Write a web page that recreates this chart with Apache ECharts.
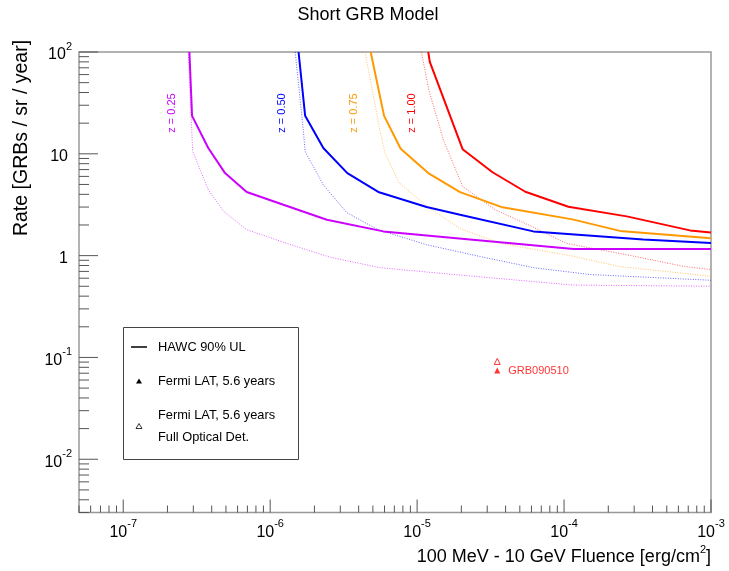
<!DOCTYPE html>
<html>
<head>
<meta charset="utf-8">
<script src="https://cdn.jsdelivr.net/npm/echarts@6/dist/echarts.min.js"></script>
<style>
html,body{margin:0;padding:0;background:#fff;}
#chart{width:729px;height:571px;}
</style>
</head>
<body>
<div id="chart"></div>
<script>
// ---------- data ----------
const xTickExps = [-7, -6, -5, -4, -3];
const yTickExps = [-2, -1, 0, 1, 2];

const zLabels = ['z = 0.25', 'z = 0.50', 'z = 0.75', 'z = 1.00'];

// HAWC 90% UL (solid)
const z025_hawc_x = [2.82e-7, 2.94e-7, 3.79e-7, 4.93e-7, 6.92e-7, 1.23e-6, 2.43e-6, 5.89e-6, 2.29e-5, 1.16e-4, 1e-3];
const z025_hawc_y = [100, 23.6, 11.4, 6.47, 4.22, 3.16, 2.25, 1.73, 1.44, 1.16, 1.16];
const z050_hawc_x = [1.56e-6, 1.73e-6, 2.30e-6, 3.35e-6, 5.44e-6, 1.16e-5, 1.96e-5, 6.18e-5, 3.46e-4, 1e-3];
const z050_hawc_y = [100, 23.6, 11.4, 6.47, 4.22, 3.0, 2.52, 1.73, 1.44, 1.33];
const z075_hawc_x = [4.83e-6, 5.96e-6, 7.73e-6, 1.19e-5, 1.96e-5, 3.81e-5, 1.14e-4, 2.40e-4, 1e-3];
const z075_hawc_y = [100, 23.6, 11.2, 6.47, 4.2, 2.98, 2.27, 1.75, 1.48];
const z100_hawc_x = [1.19e-5, 1.22e-5, 2.04e-5, 3.26e-5, 5.45e-5, 1.07e-4, 2.67e-4, 7.19e-4, 1e-3];
const z100_hawc_y = [100, 80, 11.1, 6.59, 4.24, 3.02, 2.43, 1.77, 1.69];

// Full optical detection (dotted)
const z025_opt_x = [2.77e-7, 2.97e-7, 3.79e-7, 4.85e-7, 6.92e-7, 1.32e-6, 2.55e-6, 5.58e-6, 1.96e-5, 1.15e-4, 1e-3];
const z025_opt_y = [100, 10.6, 4.43, 2.70, 1.80, 1.31, 0.966, 0.762, 0.644, 0.514, 0.50];
const z050_opt_x = [1.48e-6, 1.68e-6, 1.73e-6, 2.30e-6, 3.32e-6, 5.42e-6, 1.16e-5, 2.68e-5, 6.18e-5, 1.50e-4, 1e-3];
const z050_opt_y = [100, 17.2, 10.5, 4.96, 2.64, 1.80, 1.28, 0.98, 0.762, 0.652, 0.573];
const z075_opt_x = [4.42e-6, 5.58e-6, 6.04e-6, 7.53e-6, 1.19e-5, 1.96e-5, 3.77e-5, 1.10e-4, 2.40e-4, 1e-3];
const z075_opt_y = [100, 17.2, 10.2, 5.2, 2.99, 1.84, 1.31, 1.0, 0.78, 0.627];
const z100_opt_x = [1.07e-5, 1.20e-5, 1.51e-5, 2.04e-5, 3.39e-5, 6.18e-5, 1.04e-4, 1.50e-4, 2.67e-4, 6.49e-4, 1e-3];
const z100_opt_y = [100, 42.4, 13.7, 4.78, 2.83, 1.90, 1.32, 1.19, 1.02, 0.785, 0.73];

// GRB090510
const grb_name = 'GRB090510';
const grb_x = [3.51e-5];
const grb_fermi_y = [0.0746];
const grb_optical_y = [0.0914];

// ---------- styling ----------
const XMIN = 5e-8, XMAX = 1e-3, YMIN = 3e-3, YMAX = 100;
const FONT = '"Liberation Sans", Arial, Helvetica, sans-serif';
const colors = ['#cc00ff', '#0000ff', '#ff9900', '#ff0000'];

function zip(xs, ys) { return xs.map((x, i) => [x, ys[i]]); }

const hawc = [zip(z025_hawc_x, z025_hawc_y), zip(z050_hawc_x, z050_hawc_y), zip(z075_hawc_x, z075_hawc_y), zip(z100_hawc_x, z100_hawc_y)];
const opt = [zip(z025_opt_x, z025_opt_y), zip(z050_opt_x, z050_opt_y), zip(z075_opt_x, z075_opt_y), zip(z100_opt_x, z100_opt_y)];

// tick positions (major decades + minor 2..9)
const tickData = [];
for (let e = -8; e <= -3; e++) {
  for (let m = 1; m <= 9; m++) {
    const v = m * Math.pow(10, e);
    if (v < XMIN * 0.999 || v > XMAX * 1.001) continue;
    tickData.push([v, YMIN, m === 1 ? 13 : 7, 0]);
  }
}
for (let e = -3; e <= 2; e++) {
  for (let m = 1; m <= 9; m++) {
    const v = m * Math.pow(10, e);
    if (v < YMIN * 0.999 || v > YMAX * 1.001) continue;
    tickData.push([XMIN, v, m === 1 ? 19 : 10, 1]);
  }
}
// tick labels
const labelData = [];
xTickExps.forEach(e => labelData.push([Math.pow(10, e), YMIN, e, 0]));
yTickExps.forEach(e => labelData.push([XMIN, Math.pow(10, e), e, 1]));

function labelText(e, isY) {
  if (isY && e === 0) return '{b|1}';
  if (isY && e === 1) return '{b|10}';
  return '{b|10}{s|' + e + '}';
}
const labelRich = {
  b: { fontSize: 16, fontFamily: FONT, fill: '#000', lineHeight: 22, verticalAlign: 'bottom' },
  s: { fontSize: 11, fontFamily: FONT, fill: '#000', lineHeight: 10, verticalAlign: 'top' }
};

const series = [];
opt.forEach((d, i) => {
  series.push({
    type: 'line', data: d, showSymbol: false, silent: true,
    lineStyle: { color: colors[i], width: 1, type: [1, 1.5], opacity: 0.6 },
    z: 2
  });
});
hawc.forEach((d, i) => {
  series.push({
    type: 'line', data: d, showSymbol: false, silent: true,
    lineStyle: { color: colors[i], width: 2 },
    z: 3
  });
});
series.push({
  type: 'scatter', data: zip(grb_x, grb_fermi_y), symbol: 'triangle', symbolSize: 6,
  itemStyle: { color: '#ff0000' }, z: 4,
  label: { show: true, position: 'right', distance: 8, offset: [0, 1], formatter: grb_name, color: '#ff0000', fontSize: 11, fontFamily: FONT }
});
series.push({
  type: 'scatter', data: zip(grb_x, grb_optical_y), symbol: 'triangle', symbolSize: 6,
  itemStyle: { color: 'transparent', borderColor: '#ff0000', borderWidth: 1 }, z: 4
});
series.push({
  type: 'custom', data: tickData, silent: true, clip: false, z: 5,
  renderItem: function (params, api) {
    const p = api.coord([api.value(0), api.value(1)]);
    const len = api.value(2);
    const kind = api.value(3);
    const shape = kind === 0
      ? { x1: p[0], y1: p[1], x2: p[0], y2: p[1] - len }
      : { x1: p[0], y1: p[1], x2: p[0] + len, y2: p[1] };
    return { type: 'line', shape: shape, style: { stroke: '#555', lineWidth: 1 } };
  }
});
series.push({
  type: 'custom', data: labelData, silent: true, clip: false, z: 5,
  renderItem: function (params, api) {
    const p = api.coord([api.value(0), api.value(1)]);
    const e = api.value(2);
    const kind = api.value(3);
    if (kind === 0) {
      return { type: 'text', x: p[0], y: p[1] + 6, style: { text: labelText(e, false), rich: labelRich, align: 'center', verticalAlign: 'top' } };
    }
    const plain = (e === 0 || e === 1);
    return { type: 'text', x: p[0] - (plain ? 11 : 7), y: p[1], style: { text: labelText(e, true), rich: labelRich, align: 'right', verticalAlign: 'middle' } };
  }
});

const option = {
  animation: false,
  backgroundColor: '#fff',
  grid: { left: 79, right: 18, top: 52, bottom: 58.5, show: true, borderColor: '#999', borderWidth: 1.5, backgroundColor: 'transparent' },
  xAxis: {
    type: 'log', logBase: 10, min: XMIN, max: XMAX,
    axisLine: { show: false }, axisTick: { show: false }, splitLine: { show: false }, axisLabel: { show: false }
  },
  yAxis: {
    type: 'log', logBase: 10, min: YMIN, max: YMAX,
    axisLine: { show: false }, axisTick: { show: false }, splitLine: { show: false }, axisLabel: { show: false }
  },
  series: series,
  graphic: [
    { type: 'text', silent: true, style: { text: 'Short GRB Model', x: 368, y: 15, align: 'center', verticalAlign: 'middle', font: '18px ' + FONT, fill: '#000' } },
    { type: 'text', silent: true, rotation: Math.PI / 2, x: 22, y: 138, style: { text: 'Rate [GRBs / sr / year]', x: 0, y: 0, align: 'center', verticalAlign: 'middle', font: '19.5px ' + FONT, fill: '#000' } },
    { type: 'text', silent: true, style: {
        text: '{t|100 MeV - 10 GeV Fluence [erg/cm}{s|2}{t|]}', x: 711, y: 555, align: 'right', verticalAlign: 'middle',
        rich: { t: { fontSize: 18, fontFamily: FONT, fill: '#000', lineHeight: 22, verticalAlign: 'bottom' }, s: { fontSize: 11, fontFamily: FONT, fill: '#000', lineHeight: 11, verticalAlign: 'top' } }
      } },
    // z labels
    { type: 'text', silent: true, rotation: Math.PI / 2, x: 172, y: 113, style: { text: zLabels[0], align: 'center', verticalAlign: 'middle', font: '11px ' + FONT, fill: colors[0] } },
    { type: 'text', silent: true, rotation: Math.PI / 2, x: 282, y: 113, style: { text: zLabels[1], align: 'center', verticalAlign: 'middle', font: '11px ' + FONT, fill: colors[1] } },
    { type: 'text', silent: true, rotation: Math.PI / 2, x: 354, y: 113, style: { text: zLabels[2], align: 'center', verticalAlign: 'middle', font: '11px ' + FONT, fill: colors[2] } },
    { type: 'text', silent: true, rotation: Math.PI / 2, x: 412, y: 113, style: { text: zLabels[3], align: 'center', verticalAlign: 'middle', font: '11px ' + FONT, fill: colors[3] } },
    // legend box
    { type: 'rect', silent: true, shape: { x: 123.5, y: 327.5, width: 175, height: 132 }, style: { fill: '#fff', stroke: '#444', lineWidth: 1 }, z: 10 },
    { type: 'line', silent: true, shape: { x1: 131, y1: 347, x2: 147, y2: 347 }, style: { stroke: '#000', lineWidth: 1.5 }, z: 11 },
    { type: 'text', silent: true, style: { text: 'HAWC 90% UL', x: 158, y: 347, verticalAlign: 'middle', font: '12.8px ' + FONT, fill: '#000' }, z: 11 },
    { type: 'polygon', silent: true, shape: { points: [[139, 378.5], [136, 383.5], [142, 383.5]] }, style: { fill: '#000' }, z: 11 },
    { type: 'text', silent: true, style: { text: 'Fermi LAT, 5.6 years', x: 158, y: 381, verticalAlign: 'middle', font: '12.8px ' + FONT, fill: '#000' }, z: 11 },
    { type: 'polygon', silent: true, shape: { points: [[139, 423.5], [136, 428.5], [142, 428.5]] }, style: { fill: 'none', stroke: '#000', lineWidth: 0.8 }, z: 11 },
    { type: 'text', silent: true, style: { text: 'Fermi LAT, 5.6 years', x: 158, y: 415, verticalAlign: 'middle', font: '12.8px ' + FONT, fill: '#000' }, z: 11 },
    { type: 'text', silent: true, style: { text: 'Full Optical Det.', x: 158, y: 437, verticalAlign: 'middle', font: '12.8px ' + FONT, fill: '#000' }, z: 11 }
  ]
};

const chart = echarts.init(document.getElementById('chart'), null, { renderer: 'canvas' });
chart.setOption(option);
</script>
</body>
</html>
